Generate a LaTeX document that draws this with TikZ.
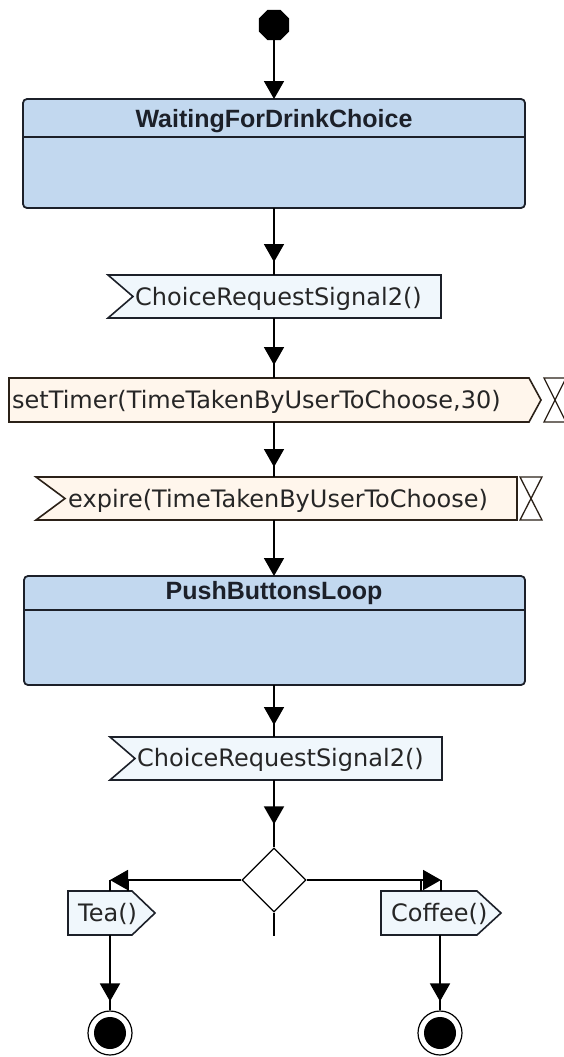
\documentclass[tikz,border=0pt]{standalone}
\usepackage{fontspec}
\setmainfont{DejaVu Sans}
\newfontfamily\titlefont{Liberation Sans}
\usetikzlibrary{arrows.meta,shapes.geometric,calc}
\definecolor{stateblue}{HTML}{C2D8EF}
\definecolor{sigfill}{HTML}{F0F7FC}
\definecolor{timerfill}{HTML}{FFF6EC}
\definecolor{edgec}{HTML}{1C2029}
\definecolor{timeredge}{HTML}{2B2118}
\begin{document}
\begin{tikzpicture}[x=1pt,y=-1pt,
  conn/.style={line width=1.8pt,draw=black},
  arr/.style={line width=1.8pt,draw=black,-{Triangle[length=18pt,width=20pt]},shorten >=#1},
  frame/.style={inner sep=0pt,outer sep=0pt,draw=none},
  statebox/.style={draw=edgec,line width=1.8pt,fill=stateblue,rounded corners=4pt},
  sigshape/.style={draw=edgec,line width=1.6pt,fill=sigfill},
  timershape/.style={draw=timeredge,line width=1.6pt,fill=timerfill},
  hourglass/.style={draw=timeredge,line width=1.3pt,fill=white},
  title/.style={font=\titlefont\bfseries\fontsize{25}{28}\selectfont,inner sep=0pt,text=edgec},
  label/.style={font=\fontsize{24}{27}\selectfont,inner sep=0pt,anchor=west,text=black!85}
]
\useasboundingbox (0,0) rectangle (564,1057);
\fill[white] (0,0) rectangle (564,1057);
\coordinate (axis) at (274,0);

% initial node
\node[regular polygon,regular polygon sides=8,fill=black,minimum size=33pt,inner sep=0pt] (init) at (274,25) {};

% WaitingForDrinkChoice
\node[frame,minimum width=502pt,minimum height=109pt] (s1) at (274,153.5) {};
\draw[statebox] (23,99) rectangle (525,208);
\draw[draw=edgec,line width=1.5pt] (23,137) -- (525,137);
\node[title] (s1t) at (274,121.5) {WaitingForDrinkChoice};

% ChoiceRequestSignal2() #1
\node[frame,minimum width=333pt,minimum height=43pt] (sig1) at (274.5,296.5) {};
\draw[sigshape] (108,275) -- (441,275) -- (441,318) -- (108,318) -- (133,296.5) -- cycle;
\node[label] (sig1t) at (135,299) {ChoiceRequestSignal2()};

% setTimer
\node[frame,minimum width=532pt,minimum height=44pt] (timer) at (275,400) {};
\draw[timershape] (9,378) -- (529,378) -- (541,400) -- (529,422) -- (9,422) -- cycle;
\node[label] (timert) at (12,402) {setTimer(TimeTakenByUserToChoose,30)};
\node[frame,minimum width=22pt,minimum height=44pt] (hg1) at (555,400) {};
\draw[hourglass] (544,378) -- (566,378) -- (544,422) -- (566,422) -- cycle;

% expire
\node[frame,minimum width=481pt,minimum height=43pt] (expire) at (276.5,498.5) {};
\draw[timershape] (36,477) -- (517,477) -- (517,520) -- (36,520) -- (65,498.5) -- cycle;
\node[label] (expiret) at (68,501) {expire(TimeTakenByUserToChoose)};
\node[frame,minimum width=22pt,minimum height=43pt] (hg2) at (531,498.5) {};
\draw[hourglass] (520,477) -- (542,477) -- (520,520) -- (542,520) -- cycle;

% PushButtonsLoop
\node[frame,minimum width=501pt,minimum height=109pt] (s2) at (274.5,630.5) {};
\draw[statebox] (24,576) rectangle (525,685);
\draw[draw=edgec,line width=1.5pt] (24,610) -- (525,610);
\node[title] (s2t) at (274,593.5) {PushButtonsLoop};

% ChoiceRequestSignal2() #2
\node[frame,minimum width=332pt,minimum height=43pt] (sig2) at (276,758.5) {};
\draw[sigshape] (110,737) -- (442,737) -- (442,780) -- (110,780) -- (135,758.5) -- cycle;
\node[label] (sig2t) at (137,760) {ChoiceRequestSignal2()};

% decision
\node[diamond,draw=black,line width=1.3pt,fill=white,minimum width=64pt,minimum height=64pt,inner sep=0pt] (dec) at (274,880) {};
\coordinate (teacorner) at (110,880);
\coordinate (coffeecorner) at (441,880);

% Tea / Coffee
\node[frame,minimum width=87pt,minimum height=44pt] (tea) at (111.5,913) {};
\draw[sigshape] (68,891) -- (132,891) -- (155,913) -- (132,935) -- (68,935) -- cycle;
\node[label] (teat) at (78,913.5) {Tea()};
\node[frame,minimum width=120pt,minimum height=44pt] (coffee) at (441,913) {};
\draw[sigshape] (381,891) -- (477,891) -- (501,913) -- (477,935) -- (381,935) -- cycle;
\node[label] (coffeet) at (391,913.5) {Coffee()};

% final nodes
\node[circle,draw=black,line width=1.2pt,fill=white,minimum size=44pt,inner sep=0pt] (f1) at (110,1033) {};
\fill[black] (f1.center) circle[radius=16];
\node[circle,draw=black,line width=1.2pt,fill=white,minimum size=44pt,inner sep=0pt] (f2) at (440,1033) {};
\fill[black] (f2.center) circle[radius=16];

% connectors
\draw[arr=0pt] (init) -- (axis |- s1.north);
\draw[conn] (axis |- s1.south) -- (axis |- sig1.north);
\draw[arr=13pt] (axis |- s1.south) -- (axis |- sig1.north);
\draw[conn] (axis |- sig1.south) -- (axis |- timer.north);
\draw[arr=13pt] (axis |- sig1.south) -- (axis |- timer.north);
\draw[conn] (axis |- timer.south) -- (axis |- expire.north);
\draw[arr=10pt] (axis |- timer.south) -- (axis |- expire.north);
\draw[arr=0pt] (axis |- expire.south) -- (axis |- s2.north);
\draw[conn] (axis |- s2.south) -- (axis |- sig2.north);
\draw[arr=12pt] (axis |- s2.south) -- (axis |- sig2.north);
\draw[conn] (axis |- sig2.south) -- (dec.north);
\draw[arr=23pt] (axis |- sig2.south) -- (dec.north);
\draw[conn] (dec.south) -- ++(0,23);
\draw[arr=0pt] (dec.west) -- (teacorner);
\draw[line width=1.5pt] (teacorner) -- (teacorner |- tea.north);
\draw[line width=1.2pt] ([xshift=18pt]teacorner) -- ([xshift=18pt]teacorner |- tea.north);
\draw[arr=0pt] (dec.east) -- (coffeecorner);
\draw[line width=1.5pt] (coffeecorner) -- (coffeecorner |- coffee.north);
\draw[line width=1.2pt] ([xshift=-20pt]coffeecorner) -- ([xshift=-20pt]coffeecorner |- coffee.north);
\draw[conn] (teacorner |- tea.south) -- (f1.north);
\draw[arr=9pt] (teacorner |- tea.south) -- (f1.north);
\draw[conn] (f2.north |- coffee.south) -- (f2.north);
\draw[arr=9pt] (f2.north |- coffee.south) -- (f2.north);
\end{tikzpicture}
\end{document}
